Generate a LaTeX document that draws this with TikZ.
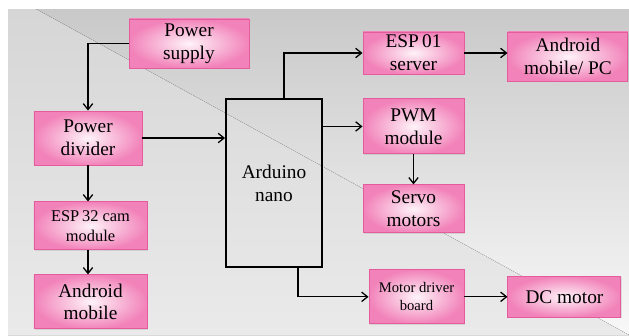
\documentclass[tikz,border=0pt]{standalone}
\usepackage{fontspec}
\setmainfont{Liberation Serif}
\usetikzlibrary{positioning, arrows.meta, calc, shadows}
\usepackage{xcolor}
\definecolor{boxPink}{HTML}{F283BA}
\definecolor{boxPinkLt}{HTML}{FEF3F8}
\definecolor{boxPinkDk}{HTML}{E55C9C}
\definecolor{bgGrayDk}{HTML}{C9C9C9}
\definecolor{bgGrayMd}{HTML}{D6D6D6}
\definecolor{bgGrayLt}{HTML}{EAEAEA}
\definecolor{bgWhite}{HTML}{F8F8F8}

\begin{document}
\begin{tikzpicture}[
    x=0.03cm, y=-0.03cm,
    >={Straight Barb[length=5pt, width=8pt]},
    block/.style={
        draw=boxPinkDk, line width=0.8pt, inner color=boxPinkLt, outer color=boxPink,
        font=\fontsize{16.5}{19.6}\selectfont, align=center, inner sep=0pt,
        drop shadow={opacity=0.2, shadow xshift=0.6pt, shadow yshift=-0.8pt}
    },
    smallblock/.style={block, font=\fontsize{14}{17}\selectfont},
    tinyblock/.style={block, font=\fontsize{12.5}{15.3}\selectfont},
    mcublock/.style={
        draw=black, line width=1.6pt, minimum width=2.88cm, minimum height=5.04cm,
        font=\fontsize{16.5}{19.6}\selectfont, align=center
    },
    wire/.style={->, line width=1.1pt, black},
]

% ============================================
% Background
% ============================================
\useasboundingbox (0,0) rectangle (629,335);
\fill[white] (0,0) rectangle (629,335);
\fill[top color=bgGrayDk, bottom color=bgWhite] (8,9) rectangle (629,335);
\fill[top color=bgGrayMd, bottom color=bgGrayLt] (8,9) -- (36,9) -- (629,335) -- (8,335) -- cycle;

% ============================================
% Power side (left)
% ============================================
\node[block, minimum width=3.6cm, minimum height=1.47cm] (psu) at (189,43.5) {Power\\supply};
\node[block, minimum width=3.24cm, minimum height=1.62cm] (pdiv) at (88,138) {Power\\divider};
\node[smallblock, minimum width=3.39cm, minimum height=1.44cm,
      below=1.08cm of pdiv.south west, anchor=north west] (cam) {ESP\,32 cam\\module};
\node[block, minimum width=3.39cm, minimum height=1.62cm,
      below=0.72cm of cam] (andr) {Android\\mobile};

% ============================================
% Controller
% ============================================
\node[mcublock] (nano) at (274,183) {Arduino\\nano};

% ============================================
% Outputs (right)
% ============================================
\node[block, minimum width=3.03cm, minimum height=1.26cm] (esp01) at (413.5,53) {ESP\,01\\server};
\node[block, minimum width=3.6cm, minimum height=1.47cm,
      right=1.29cm of esp01.north east, anchor=north west] (pc) {Android\\mobile/ PC};
\node[block, minimum width=3.03cm, minimum height=1.65cm, below=0.72cm of esp01] (pwm) {PWM\\module};
\node[block, minimum width=3.03cm, minimum height=1.44cm, below=0.9cm of pwm] (servo) {Servo\\motors};
\node[tinyblock, minimum width=2.85cm, minimum height=1.62cm,
      below=1.08cm of servo.south east, anchor=north east] (mdrv) {Motor driver\\board};
\node[block, minimum width=3.39cm, minimum height=1.23cm, right=1.29cm of mdrv] (dcm) {DC motor};

% ============================================
% Connections
% ============================================
\draw[wire] (psu.west) -| (pdiv.north);
\draw[wire] (pdiv.east) -- (pdiv.east -| nano.west);
\draw[wire] (pdiv.south) -- (pdiv.south |- cam.north);
\draw[wire] (cam.south -| pdiv.south) -- (andr.north -| pdiv.south);

\draw[wire] ([xshift=0.3cm]nano.north) |- (esp01.west);
\draw[wire] (esp01.east) -- (esp01.east -| pc.west);
\draw[wire] (nano.east |- pwm.west) -- (pwm.west);
\draw[wire] (pwm.south) -- (servo.north);
\draw[wire] ([xshift=0.72cm]nano.south) |- (mdrv.west);
\draw[wire] (mdrv.east) -- (dcm.west);

\end{tikzpicture}
\end{document}
